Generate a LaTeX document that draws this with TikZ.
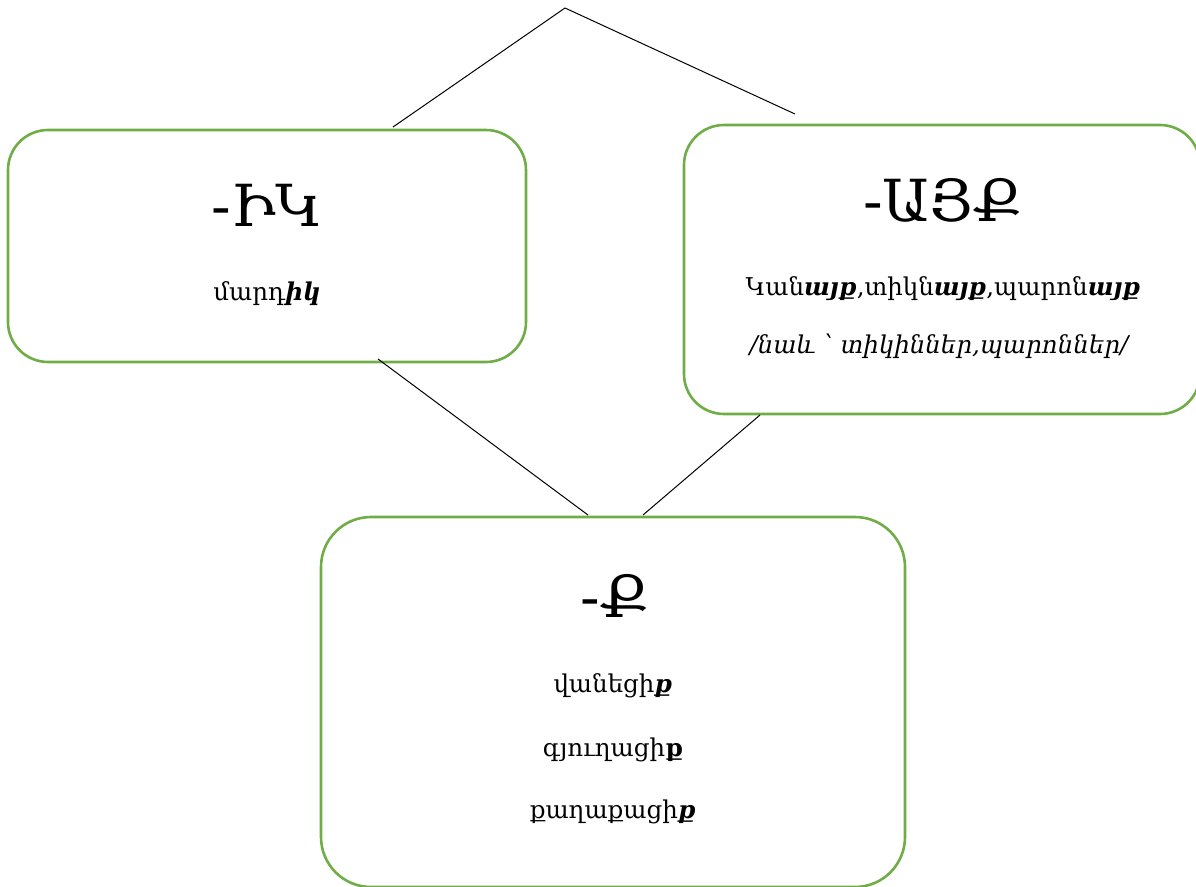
\documentclass[tikz,border=0pt]{standalone}
\usepackage{fontspec}
\setmainfont{DejaVu Serif}
\definecolor{boxgreen}{HTML}{70AD47}
\tikzset{
  box/.style={draw=boxgreen, line width=2.6pt, rounded corners=40pt, inner sep=0pt},
  link/.style={draw=black, line width=1pt},
  title/.style={anchor=base, inner sep=0pt, font=\fontsize{58}{66}\selectfont},
  body/.style={anchor=base, inner sep=0pt, font=\fontsize{24.5}{28}\selectfont}
}
\newcommand{\bi}[1]{\textbf{\textit{#1}}}
\begin{document}
\begin{tikzpicture}[x=1pt,y=-1pt]
\useasboundingbox (0,0) rectangle (1196,886);
% boxes
\node[box, minimum width=518, minimum height=232] (L) at (267,246) {};
\node[box, minimum width=516, minimum height=289] (R) at (942,269.5) {};
\node[box, minimum width=584, minimum height=370, rounded corners=50pt] (B) at (613,702) {};
% texts
\node[title] (Lt) at (267,226) {-ԻԿ};
\node[body] (Lb) at (267,300) {մարդ\bi{իկ}};
\node[title] (Rt) at (943,221) {-ԱՅՔ};
\node[body] (Rb1) at (943,295) {Կան\bi{այք},տիկն\bi{այք},պարոն\bi{այք}};
\node[body] (Rb2) at (940,353) {\textit{/նաև ՝ տիկիններ,պարոններ/}};
\node[title] (Bt) at (615,617) {-Ք};
\node[body] (Bb1) at (613,692) {վանեցի\bi{ք}};
\node[body] (Bb2) at (613,756) {գյուղացի\textbf{ք}};
\node[body] (Bb3) at (613,818) {քաղաքացի\bi{ք}};
% connectors
\coordinate (apex) at (565,8);
\coordinate (lt) at (393,127);
\coordinate (rt) at (795,114);
\coordinate (lb) at (378,359);
\coordinate (rb) at (760,415);
\coordinate (b1) at (588,515);
\coordinate (b2) at (643,515);
\draw[link] (apex) -- (lt);
\draw[link] (apex) -- (rt);
\draw[link] (lb) -- (b1);
\draw[link] (rb) -- (b2);
\end{tikzpicture}
\end{document}
